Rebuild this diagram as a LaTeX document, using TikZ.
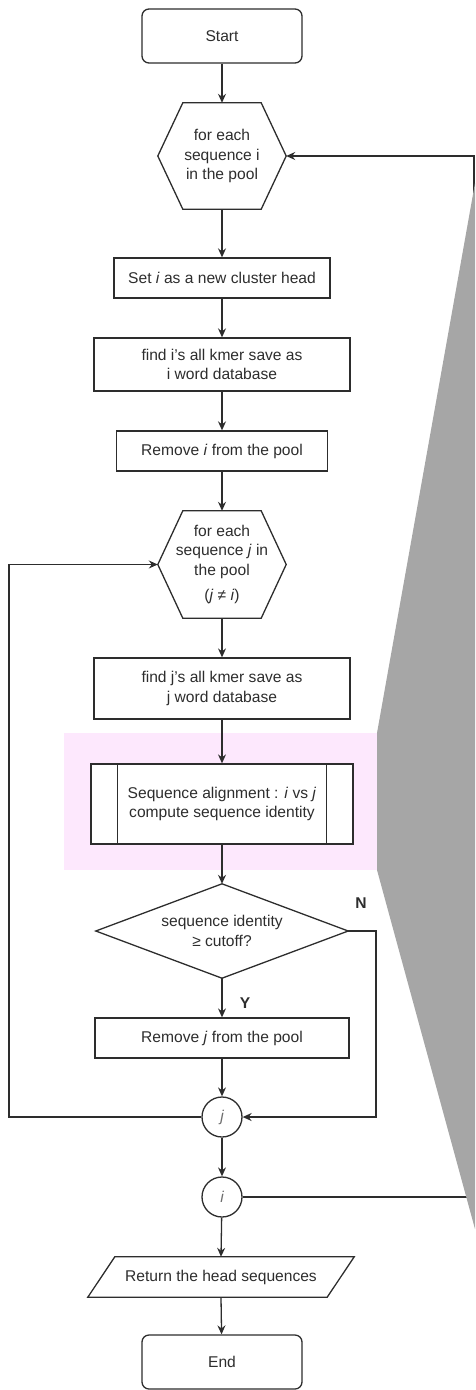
\documentclass[tikz,border=0pt]{standalone}
\usepackage{fontspec}
\setmainfont{Liberation Sans}
\usetikzlibrary{arrows.meta}
\definecolor{pinkbg}{RGB}{253,232,253}
\definecolor{graypoly}{RGB}{166,166,166}
\definecolor{ink}{RGB}{45,45,45}
\definecolor{circtxt}{RGB}{110,110,110}
\begin{document}
\begin{tikzpicture}[x=1pt,y=-1pt,
  every node/.style={font=\fontsize{15.6}{19.5}\selectfont, text=ink, align=center, inner sep=0pt},
  outline/.style={draw=ink, line width=1.3pt},
  termbox/.style={outline, rounded corners=7pt, minimum width=160pt, minimum height=54pt},
  procbox/.style={outline, minimum height=#1},
  ghost/.style={minimum height=#1},
  circ/.style={outline, circle, minimum size=40pt, font=\fontsize{15.6}{19.5}\selectfont\itshape, text=circtxt},
  arr/.style={draw=ink, line width=1.3pt, -{Stealth[length=9pt,width=8pt,inset=3pt]}},
  ln/.style={draw=ink, line width=1.3pt},
  lbl/.style={font=\fontsize{15.6}{19.5}\selectfont\bfseries, text=ink}
]
\useasboundingbox (0,0) rectangle (475,1390);

% background highlight
\fill[pinkbg] (64,733) rectangle (377,870);

% nodes
\node[termbox] (start) at (222,36) {Start};

\node[ghost=106pt, minimum width=128pt] (hex1) at (222,156) {for each\\sequence i\\in the pool};
\draw[outline] (hex1.west) -- ([xshift=25pt]hex1.north west) -- ([xshift=-25pt]hex1.north east)
  -- (hex1.east) -- ([xshift=-25pt]hex1.south east) -- ([xshift=25pt]hex1.south west) -- cycle;

\node[procbox=40pt, minimum width=216pt] (seti) at (222,278) {Set \textit{i} as a new cluster head};
\node[procbox=53pt, minimum width=256pt] (findi) at (222,364.5) {find i's all kmer save as\\i word database};
\node[procbox=40pt, minimum width=211pt] (remi) at (222,451) {Remove \textit{i} from the pool};

\node[ghost=107pt, minimum width=128pt] (hex2) at (222,564.5) {for each\\sequence \textit{j} in\\the pool\\[6pt](\textit{j} ≠ \textit{i})};
\draw[outline] (hex2.west) -- ([xshift=25pt]hex2.north west) -- ([xshift=-25pt]hex2.north east)
  -- (hex2.east) -- ([xshift=-25pt]hex2.south east) -- ([xshift=25pt]hex2.south west) -- cycle;

\node[procbox=61pt, minimum width=256pt] (findj) at (222,688.5) {find j's all kmer save as\\j word database};

\node[procbox=80pt, minimum width=262pt, fill=white] (align) at (222,804) {Sequence alignment : \textit{i} vs \textit{j}\\compute sequence identity};
\draw[outline] ([xshift=27pt]align.north west) -- ([xshift=27pt]align.south west);
\draw[outline] ([xshift=-27pt]align.north east) -- ([xshift=-27pt]align.south east);

\node[ghost=94pt, minimum width=252pt] (dec) at (222,931) {sequence identity\\≥ cutoff?};
\draw[outline] (dec.north) -- (dec.east) -- (dec.south) -- (dec.west) -- cycle;

\node[procbox=40pt, minimum width=254pt] (remj) at (222,1038) {Remove \textit{j} from the pool};

\node[circ] (jc) at (222,1117) {j};
\node[circ] (ic) at (222,1197) {i};

\node[ghost=40pt, minimum width=266pt] (ret) at (221,1277) {Return the head sequences};
\draw[outline] ([xshift=27pt]ret.north west) -- (ret.north east) -- ([xshift=-27pt]ret.south east) -- (ret.south west) -- cycle;

\node[termbox] (stop) at (222,1362) {End};

% connectors
\draw[arr] (start) -- (hex1.north);
\draw[arr] (hex1.south) -- (seti);
\draw[arr] (seti) -- (findi);
\draw[arr] (findi) -- (remi);
\draw[arr] (remi) -- (hex2.north);
\draw[arr] (hex2.south) -- (findj);
\draw[arr] (findj) -- (align);
\draw[arr] (align) -- (dec.north);
\draw[arr] (dec.south) -- (remj);
\draw[arr] (remj) -- (jc);
\draw[arr] (dec.east) -- (376,931) -- (376,1117) -- (jc.east);
\draw[arr] (jc.west) -- (9,1117) -- (9,564.5) -- (hex2.west);
\draw[arr] (jc) -- (ic);
\draw[arr] (ic.east) -- (474,1197) -- (474,156) -- (hex1.east);
\draw[arr] (ic) -- (ret.north);
\draw[arr] (ret.south) -- (stop);

% labels
\node[lbl] (ylab) at (245,1003) {Y};
\node[lbl] (nlab) at (361,903) {N};

% callout wedge
\fill[graypoly] (475,183) -- (377,733) -- (377,870) -- (475,1229) -- cycle;
\end{tikzpicture}
\end{document}
